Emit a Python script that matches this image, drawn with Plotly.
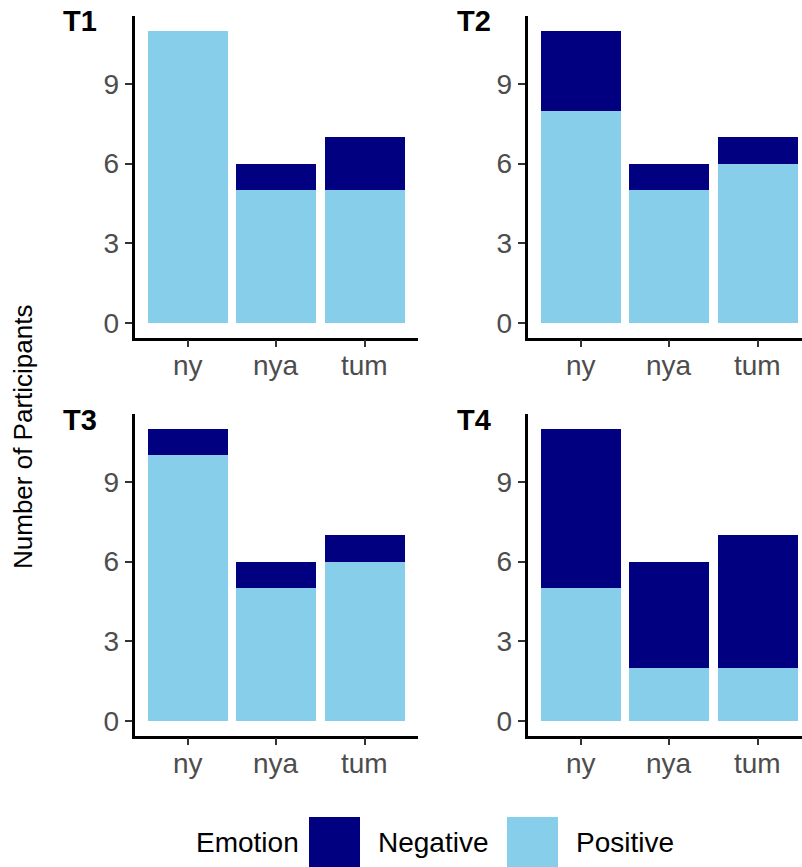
import plotly.graph_objects as go

# Counts of participants by word and emotion at each time point
categories = ["ny", "nya", "tum"]
times = ["T1", "T2", "T3", "T4"]
positive = {
    "T1": [11, 5, 5],
    "T2": [8, 5, 6],
    "T3": [10, 5, 6],
    "T4": [5, 2, 2],
}
negative = {
    "T1": [0, 1, 2],
    "T2": [3, 1, 1],
    "T3": [1, 1, 1],
    "T4": [6, 4, 5],
}
y_ticks = [0, 3, 6, 9]
emotions = ["Negative", "Positive"]
colors = {"Negative": "#000080", "Positive": "#87CEEB"}

W, H = 802, 867
FONT = "Liberation Sans, Arial, sans-serif"

def px_x(v):
    return v / W

def px_y(v):
    return 1 - v / H

# panel geometry (pixels)
left_x = (134.5, 418.0)
right_x = (527.5, 802.0)
unit_x = (418.0 - 134.5) / 3.2
top_y = (16.3, 337.6)
bot_y = (414.3, 735.6)

panels = {
    "T1": (left_x, top_y),
    "T2": (right_x, top_y),
    "T3": (left_x, bot_y),
    "T4": (right_x, bot_y),
}

fig = go.Figure()
layout = {}
annotations = []
x_pos = [1, 2, 3]

for i, t in enumerate(times, start=1):
    (x0, x1), (y0, y1) = panels[t]
    xa = "x" if i == 1 else f"x{i}"
    ya = "y" if i == 1 else f"y{i}"
    # Positive sits at the base of each stack, Negative on top
    for emo, vals in (("Positive", positive[t]), ("Negative", negative[t])):
        fig.add_trace(go.Bar(
            x=x_pos, y=vals, width=0.9, name=emo,
            marker=dict(color=colors[emo], line=dict(width=0)),
            xaxis=xa, yaxis=ya, showlegend=False,
        ))
    xr_end = 0.4 + (x1 - x0) / unit_x
    layout[f"xaxis{'' if i == 1 else i}"] = dict(
        domain=[px_x(x0), px_x(x1)], range=[0.4, xr_end], anchor=ya,
        tickmode="array", tickvals=x_pos, showticklabels=False,
        showline=True, linecolor="black", linewidth=2.5,
        ticks="outside", ticklen=7, tickwidth=2, tickcolor="#333333",
        showgrid=False, zeroline=False, fixedrange=True,
    )
    layout[f"yaxis{'' if i == 1 else i}"] = dict(
        domain=[px_y(y1), px_y(y0)], range=[-0.55, 11.55], anchor=xa,
        tickmode="array", tickvals=y_ticks,
        showline=True, linecolor="black", linewidth=2.5,
        ticks="outside", ticklen=7, tickwidth=2, tickcolor="#333333",
        tickfont=dict(family=FONT, size=28, color="#4d4d4d"),
        showgrid=False, zeroline=False, fixedrange=True,
    )
    # category labels under the x axis, placed at the category positions
    for xv, lab in zip(x_pos, categories):
        annotations.append(dict(
            text=lab, x=xv, y=px_y(y1 + 27.5), xref=xa, yref="paper",
            xanchor="center", yanchor="middle", showarrow=False,
            font=dict(family=FONT, size=28, color="#4d4d4d"),
        ))

title_pos = {"T1": (61, 21), "T2": (455, 21), "T3": (61, 420), "T4": (455, 420)}
for t, (tx, ty) in title_pos.items():
    annotations.append(dict(
        text=f"<b>{t}</b>", x=px_x(tx), y=px_y(ty), xref="paper", yref="paper",
        xanchor="left", yanchor="middle", showarrow=False,
        font=dict(family=FONT, size=29, color="black"),
    ))

annotations.append(dict(
    text="Number of Participants", x=px_x(23), y=px_y(437),
    xref="paper", yref="paper", textangle=-90, showarrow=False,
    xanchor="center", yanchor="middle",
    font=dict(family=FONT, size=26, color="black"),
))

# legend drawn along the bottom edge
shapes = []
leg_cy = 842
annotations.append(dict(
    text="Emotion", x=px_x(301), y=px_y(leg_cy), xref="paper", yref="paper",
    xanchor="right", yanchor="middle", showarrow=False,
    font=dict(family=FONT, size=28, color="black"),
))
key_x = {"Negative": 309, "Positive": 507}
for emo in emotions:
    kx = key_x[emo]
    shapes.append(dict(
        type="rect", xref="paper", yref="paper",
        x0=px_x(kx), x1=px_x(kx + 51), y0=px_y(867), y1=px_y(817),
        fillcolor=colors[emo], line=dict(width=0),
    ))
    annotations.append(dict(
        text=emo, x=px_x(kx + 67), y=px_y(leg_cy), xref="paper", yref="paper",
        xanchor="left", yanchor="middle", showarrow=False,
        font=dict(family=FONT, size=28, color="black"),
    ))

fig.update_layout(
    **layout,
    barmode="stack",
    width=W, height=H,
    margin=dict(l=0, r=0, t=0, b=0),
    paper_bgcolor="white", plot_bgcolor="white",
    annotations=annotations, shapes=shapes,
    showlegend=False,
)

fig.write_html("out.html", config={"displayModeBar": False})
